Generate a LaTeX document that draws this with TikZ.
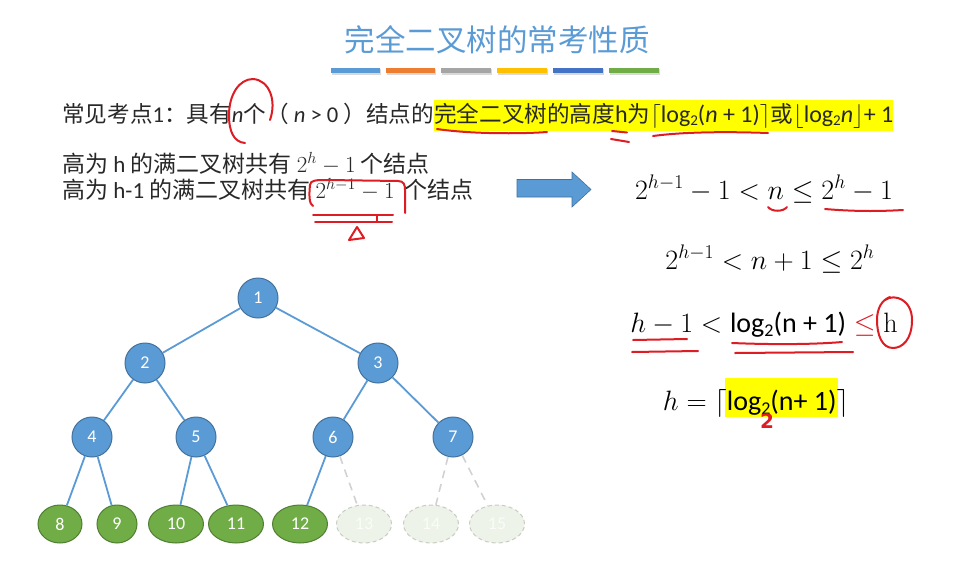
\RequirePackage{fix-cm}
\documentclass[tikz,border=0pt]{standalone}
\usepackage[no-math]{fontspec}
\setmainfont{Carlito}
\newfontfamily\cjk{Noto Sans CJK SC}
\newfontfamily\heavy{DejaVu Sans}
\usetikzlibrary{shapes.geometric}
\definecolor{titleblue}{RGB}{91,155,213}
\definecolor{barblue}{RGB}{91,155,213}
\definecolor{barorange}{RGB}{237,125,49}
\definecolor{bargray}{RGB}{165,165,165}
\definecolor{baryellow}{RGB}{255,192,0}
\definecolor{bardblue}{RGB}{68,114,196}
\definecolor{bargreen}{RGB}{112,173,71}
\definecolor{nodeblue}{RGB}{91,155,213}
\definecolor{nodeblueb}{RGB}{65,113,156}
\definecolor{leafgreen}{RGB}{112,173,71}
\definecolor{leafgreenb}{RGB}{80,126,50}
\definecolor{ghostfill}{RGB}{237,243,232}
\definecolor{ghostdraw}{RGB}{200,205,196}
\definecolor{ghosttext}{RGB}{250,252,248}
\definecolor{ghostedge}{RGB}{210,210,210}
\definecolor{hlyellow}{RGB}{255,255,0}
\definecolor{pen}{RGB}{222,28,36}
\definecolor{txtgray}{RGB}{40,40,40}
\newcommand\zh[1]{{\cjk #1}}
\newcommand\lat[1]{{\fontsize{24}{26}\selectfont #1}}
\newcommand\lsub[2]{\raisebox{-0.32ex}{\fontsize{#1}{#1}\selectfont #2}}
\newcommand\txtfont{\color{txtgray}\fontsize{22.6}{26}\selectfont}
\newcommand\txtfontb{\color{txtgray}\fontsize{23}{26}\selectfont}
\newcommand\mfont{\color{black}\fontsize{28}{32}\selectfont}
\newcommand\nfont{\fontsize{18}{18}\selectfont}
\tikzset{
  inode/.style={circle, fill=nodeblue, draw=nodeblueb, line width=1pt, minimum size=40pt, inner sep=0pt, text=white, font=\nfont},
  leaf/.style={ellipse, fill=leafgreen, draw=leafgreenb, line width=1pt, minimum height=38pt, minimum width=55pt, inner sep=0pt, text=white, font=\nfont},
  ghost/.style={ellipse, fill=ghostfill, draw=ghostdraw, dash pattern=on 4pt off 3pt, line width=1pt, minimum height=38pt, minimum width=55pt, inner sep=0pt, text=ghosttext, font=\nfont},
  edge/.style={draw=nodeblue, line width=1.8pt},
  ghostline/.style={draw=ghostedge, line width=1.6pt, dash pattern=on 8pt off 6pt},
  redpen/.style={draw=pen, line width=2pt, line cap=round, line join=round},
  plain/.style={anchor=base west, inner sep=0pt, font=\txtfont},
  plainb/.style={anchor=base west, inner sep=0pt, font=\txtfontb},
  formula/.style={anchor=base, inner sep=0pt, font=\mfont}
}
\begin{document}
\begin{tikzpicture}[x=1pt,y=-1pt]
\useasboundingbox (0,0) rectangle (957,562);
\fill[white] (0,0) rectangle (957,562);

% title
\node[font=\cjk\fontsize{30.5}{31}\selectfont, text=titleblue, inner sep=0pt] (title) at (497,40) {完全二叉树的常考性质};

% colour bars
\foreach \xa/\xb/\c in {331/380/barblue, 386/435/barorange, 441/491/bargray, 497/547/baryellow, 553/603/bardblue, 609/659/bargreen}{
  \fill[black!15] (\xa+1,68.5) rectangle (\xb+1,74.5);
  \fill[\c] (\xa,67.5) rectangle (\xb,73);
}

% line 1
\node[plain] (l1a) at (62,122) {\zh{常见考点}1\zh{：具有}\textit{n}\zh{个（} \textit{n} > 0 \zh{）结点的}};
\node[plain, fill=hlyellow, inner ysep=2.5pt] (l1b) at (l1a.base east) {\zh{完全二叉树的高度}\lat{h}\zh{为}\lat{$\lceil$log\lsub{15}{2}(\textit{n} + 1)$\rceil$}\zh{或}\lat{$\lfloor$log\lsub{15}{2}\textit{n}$\rfloor$+ 1}};

% lines 2 and 3
\node[plainb] (l2) at (62,172) {\zh{高为} h \zh{的满二叉树共有} $2^h-1$ \zh{个结点}};
\node[plainb] (l3) at (62,198) {\zh{高为} h-1 \zh{的满二叉树共有} $2^{h-1}-1$\;\,\zh{个结点}};

% block arrow
\filldraw[fill=nodeblue, draw=nodeblueb, line width=0.6pt] (517,179.5) -- (572,179.5) -- (572,172) -- (591,189.5) -- (572,207) -- (572,197) -- (517,197) -- cycle;

% formulas
\node[formula] (f1) at (764,199) {$2^{h-1}-1<n\le 2^h-1$};
\node[formula] (f2) at (770,269) {$2^{h-1}<n+1\le 2^h$};
\node[formula] (f3) at (764,332) {$h-1<\mbox{log\lsub{18}{2}(n + 1)}\mathrel{\textcolor{pen}{\le}}\mathrm{h}$};
\fill[hlyellow] (725,378) rectangle (838,417);
\node[formula] (f4) at (756,410) {$h=\lceil\mbox{log\lsub{18}{2}(n+ 1)}\rceil$};
\node[text=pen, font=\heavy\bfseries\fontsize{20}{20}\selectfont, inner sep=0pt] (two) at (767,421) {2};

% tree
\node[inode] (n1) at (258,298) {1};
\node[inode] (n2) at (145,363) {2};
\node[inode] (n3) at (378,363) {3};
\node[inode] (n4) at (92,437) {4};
\node[inode] (n5) at (196,437) {5};
\node[inode] (n6) at (333,437) {6};
\node[inode] (n7) at (453,437) {7};
\node[leaf, minimum width=44pt] (n8) at (60,524) {8};
\node[leaf, minimum width=40pt] (n9) at (117,524) {9};
\node[leaf] (n10) at (176,524) {10};
\node[leaf] (n11) at (236,524) {11};
\node[leaf] (n12) at (300,524) {12};
\node[ghost] (n13) at (364,524) {13};
\node[ghost] (n14) at (431,524) {14};
\node[ghost] (n15) at (497,524) {15};
\draw[edge] (n1) -- (n2);
\draw[edge] (n1) -- (n3);
\draw[edge] (n2) -- (n4);
\draw[edge] (n2) -- (n5);
\draw[edge] (n3) -- (n6);
\draw[edge] (n3) -- (n7);
\draw[edge] (n4) -- (n8);
\draw[edge] (n4) -- (n9);
\draw[edge] (n5) -- (n10);
\draw[edge] (n5) -- (n11);
\draw[edge] (n6) -- (n12);
\draw[ghostline] (n6) -- (n13);
\draw[ghostline] (n7) -- (n14);
\draw[ghostline] (n7) -- (n15);

% red handwriting
\draw[redpen] (270,120) .. controls (277,100) and (269,80) .. (253,79) .. controls (239,79) and (229,95) .. (229,115) .. controls (229,132) and (234,142) .. (245,143);
\draw[redpen] (437,129) .. controls (470,134) and (520,134) .. (547,132);
\draw[redpen] (612,131) -- (627,132.5);
\draw[redpen] (611,139) -- (629,142);
\draw[redpen] (653,136) .. controls (690,131) and (740,132) .. (768,133);
\draw[redpen] (313,206) .. controls (309,204) and (309,195) .. (310,185) .. controls (310,180) and (317,180) .. (327,180) -- (398,181) .. controls (404,181) and (405,185) .. (405,190) -- (405,213);
\draw[redpen] (313,215) -- (393,215);
\draw[redpen] (315,222) -- (392,222);
\draw[redpen] (377,216) -- (377,222);
\draw[redpen] (357,227) -- (349,240) -- (364,238) -- cycle;
\draw[redpen] (768,207) .. controls (772,212) and (783,212) .. (787,207);
\draw[redpen] (825,209) .. controls (860,212) and (885,211) .. (903,210);
\draw[redpen] (633,340) -- (687,339);
\draw[redpen] (632,352) -- (698,351);
\draw[redpen] (732,343) .. controls (780,345) and (820,344) .. (842,342);
\draw[redpen] (735,353) -- (853,352);
\draw[redpen] (885,300) .. controls (895,293) and (912,300) .. (912,320) .. controls (912,340) and (902,348) .. (893,348) .. controls (882,348) and (877,335) .. (877,320) .. controls (877,308) and (882,300) .. (890,297);
\end{tikzpicture}
\end{document}
